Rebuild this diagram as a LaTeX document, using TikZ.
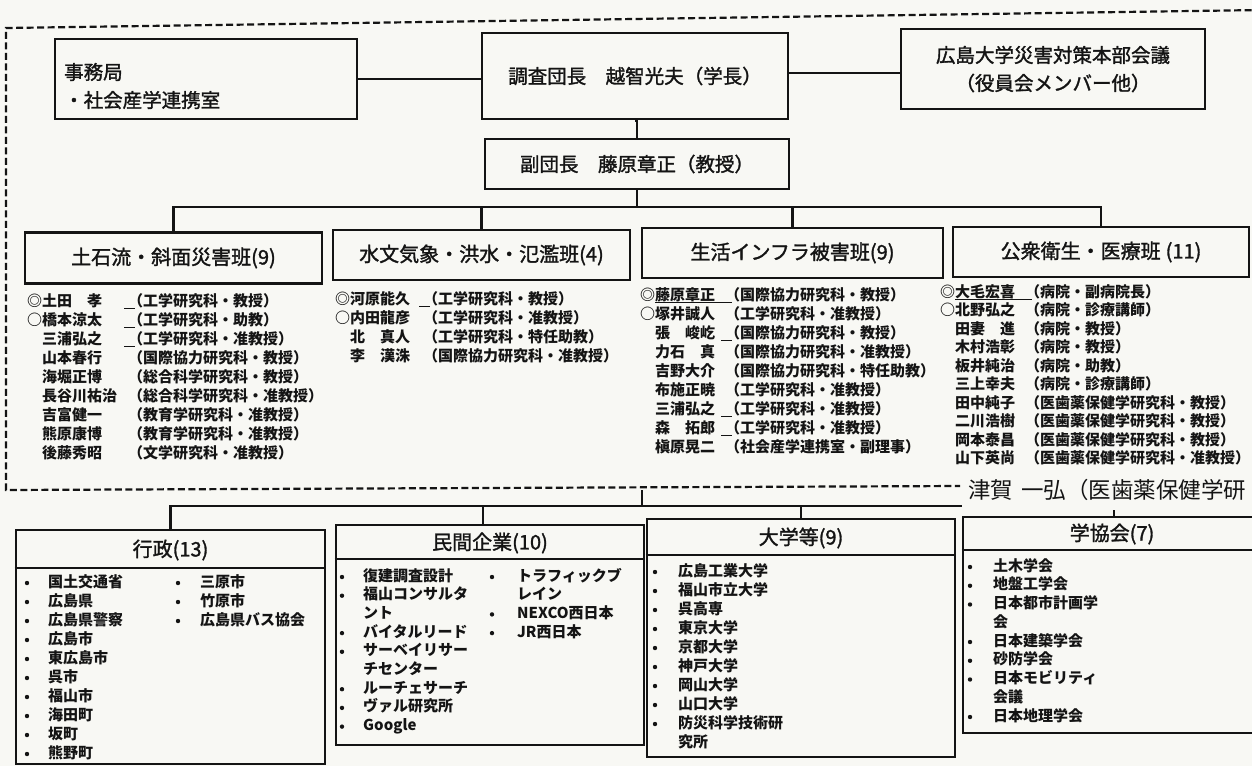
\documentclass[tikz,border=0pt]{standalone}
\usepackage{fontspec}
\setmainfont{Noto Sans CJK JP}
\newfontfamily\medfont{Noto Sans CJK JP}[FakeBold=1.5]
\definecolor{paper}{RGB}{248,248,244}
\definecolor{ink}{RGB}{20,20,20}
\tikzset{
  box/.style={draw=ink, line width=2.8pt, inner sep=0pt},
  conn/.style={draw=ink, line width=2.6pt},
  dashbox/.style={draw=ink, line width=2.2pt, dash pattern=on 7pt off 3.5pt},
  hdr/.style={inner sep=0pt, text=ink, font=\medfont\fontsize{20}{24}\selectfont},
  topt/.style={inner sep=0pt, text=ink, font=\medfont\fontsize{19.5}{24}\selectfont},
  lst/.style={inner sep=0pt, anchor=west, text=ink, font=\fontsize{15}{18}\selectfont\bfseries, text height=11pt, text depth=3pt},
  bul/.style={circle, fill=ink, inner sep=0pt, minimum size=4.4pt},
  uline/.style={draw=ink, line width=1pt},
  hand/.style={inner sep=0pt, anchor=west, text=ink, font=\fontsize{22.5}{26}\selectfont},
  whiteout/.style={fill=paper, draw=none}
}
\newcommand\mrow[6]{\node[lst] (#1n) at (#2,#4) {#5};\node[lst] (#1a) at (#3,#4) {#6};}
\newcommand\bit[5]{\node[bul] (#1b) at (#2,#4) {};\node[lst] (#1t) at (#3,#4) {#5};}
\newcommand\cont[4]{\node[lst] (#1t) at (#2,#3) {#4};}
\newcommand\ushort[1]{\draw[uline] ([xshift=-4pt,yshift=-6pt]#1.west) -- ([xshift=7pt,yshift=-6pt]#1.west);}
\begin{document}
\begin{tikzpicture}[x=1pt,y=-1pt]
\useasboundingbox (0,0) rectangle (1252,766);
\fill[paper] (0,0) rectangle (1252,766);

% dashed frame
\coordinate (dA) at (1262,10);
\coordinate (dB) at (6,28);
\coordinate (dC) at (6,490);
\coordinate (dD) at (960,486);
\draw[dashbox] (dA) -- (dB) -- (dC) -- (dD);

% top row
\node[box, minimum width=302pt, minimum height=80pt] (jim) at (206,79) {};
\node[topt, anchor=west] (jimA) at (64,72) {事務局};
\node[topt, anchor=west] (jimB) at (64,100) {・社会産学連携室};
\node[box, minimum width=306pt, minimum height=86pt, topt] (chief) at (635,76) {調査団長　越智光夫（学長）};
\node[box, minimum width=304pt, minimum height=80pt] (hq) at (1053,69) {};
\node[topt] (hqA) at (1053,55) {広島大学災害対策本部会議};
\node[topt] (hqB) at (1053,83) {（役員会メンバー他）};
\node[box, minimum width=304pt, minimum height=50pt, topt] (vice) at (637,164) {副団長　藤原章正（教授）};

\draw[conn] (jim.east) -- (jim.east -| chief.west);
\draw[conn] (chief.east |- 0,73) -- (hq.west |- 0,73);
\draw[conn] (chief.south) -- (vice.south |- chief.south) -- (vice.north);

% group boxes
\node[box, minimum width=297pt, minimum height=51pt, hdr] (g1) at (173.5,258) {土石流・斜面災害班(9)};
\node[box, minimum width=297pt, minimum height=50pt, hdr] (g2) at (481.5,255) {水文気象・洪水・氾濫班(4)};
\node[box, minimum width=301pt, minimum height=50pt, hdr] (g3) at (792.5,253) {生活インフラ被害班(9)};
\node[box, minimum width=296pt, minimum height=50pt, hdr] (g4) at (1101,252) {公衆衛生・医療班\hspace{5pt}(11)};
\coordinate (gbar) at (637,207);
\draw[conn] (vice.south) -- (vice.south |- gbar);
\draw[conn] (g1.north) |- (gbar) -| (g4.north);
\draw[conn] (g2.north) -- (g2.north |- gbar);
\draw[conn] (g3.north) -- (g3.north |- gbar);

% group 1 members
\mrow{a1}{27}{128}{302}{◎土田　孝}{（工学研究科・教授）}
\mrow{a2}{27}{128}{321}{○橋本涼太}{（工学研究科・助教）}
\mrow{a3}{27}{128}{340}{\phantom{◎}三浦弘之}{（工学研究科・准教授）}
\mrow{a4}{27}{128}{359}{\phantom{◎}山本春行}{（国際協力研究科・教授）}
\mrow{a5}{27}{128}{378}{\phantom{◎}海堀正博}{（総合科学研究科・教授）}
\mrow{a6}{27}{128}{397}{\phantom{◎}長谷川祐治}{（総合科学研究科・准教授）}
\mrow{a7}{27}{128}{416}{\phantom{◎}吉富健一}{（教育学研究科・准教授）}
\mrow{a8}{27}{128}{435}{\phantom{◎}熊原康博}{（教育学研究科・准教授）}
\mrow{a9}{27}{128}{454}{\phantom{◎}後藤秀昭}{（文学研究科・准教授）}
\ushort{a1a}\ushort{a2a}\ushort{a3a}

% group 2 members
\mrow{b1}{335}{423}{300}{◎河原能久}{（工学研究科・教授）}
\mrow{b2}{335}{423}{319}{○内田龍彦}{（工学研究科・准教授）}
\mrow{b3}{335}{423}{338}{\phantom{◎}北　真人}{（工学研究科・特任助教）}
\mrow{b4}{335}{423}{357}{\phantom{◎}李　漢洙}{（国際協力研究科・准教授）}
\ushort{b1a}

% group 3 members
\mrow{c1}{640}{725}{296}{◎藤原章正}{（国際協力研究科・教授）}
\mrow{c2}{640}{725}{315}{○塚井誠人}{（工学研究科・准教授）}
\mrow{c3}{640}{725}{334}{\phantom{◎}張　峻屹}{（国際協力研究科・教授）}
\mrow{c4}{640}{725}{353}{\phantom{◎}力石　真}{（国際協力研究科・准教授）}
\mrow{c5}{640}{725}{372}{\phantom{◎}吉野大介}{（国際協力研究科・特任助教）}
\mrow{c6}{640}{725}{391}{\phantom{◎}布施正暁}{（工学研究科・准教授）}
\mrow{c7}{640}{725}{410}{\phantom{◎}三浦弘之}{（工学研究科・准教授）}
\mrow{c8}{640}{725}{429}{\phantom{◎}森　拓郎}{（工学研究科・准教授）}
\mrow{c9}{640}{725}{448}{\phantom{◎}槇原晃二}{（社会産学連携室・副理事）}
\draw[uline] ([xshift=15pt,yshift=-6pt]c1n.west) -- ([xshift=7pt,yshift=-6pt]c1a.west);
\ushort{c3a}\ushort{c7a}\ushort{c8a}

% group 4 members
\mrow{d1}{940}{1025}{293}{◎大毛宏喜}{（病院・副病院長）}
\mrow{d2}{940}{1025}{311.5}{○北野弘之}{（病院・診療講師）}
\mrow{d3}{940}{1025}{330}{\phantom{◎}田妻　進}{（病院・教授）}
\mrow{d4}{940}{1025}{348.5}{\phantom{◎}木村浩彰}{（病院・教授）}
\mrow{d5}{940}{1025}{367}{\phantom{◎}板井純治}{（病院・助教）}
\mrow{d6}{940}{1025}{385.5}{\phantom{◎}三上幸夫}{（病院・診療講師）}
\mrow{d7}{940}{1025}{404}{\phantom{◎}田中純子}{（医歯薬保健学研究科・教授）}
\mrow{d8}{940}{1025}{422.5}{\phantom{◎}二川浩樹}{（医歯薬保健学研究科・教授）}
\mrow{d9}{940}{1025}{441}{\phantom{◎}岡本泰昌}{（医歯薬保健学研究科・教授）}
\mrow{d10}{940}{1025}{459.5}{\phantom{◎}山下英尚}{（医歯薬保健学研究科・准教授）}
\draw[uline] ([xshift=15pt,yshift=-6pt]d1n.west) -- ([xshift=7pt,yshift=-6pt]d1a.west);

% bottom boxes
\node[box, minimum width=309pt, minimum height=234pt] (e1) at (170.5,647) {};
\node[box, minimum width=308pt, minimum height=220pt] (e2) at (490,635) {};
\node[box, minimum width=308pt, minimum height=238pt] (e3) at (801,638) {};
\node[box, minimum width=302pt, minimum height=216pt] (e4) at (1114,625) {};
\coordinate (bbar) at (642,506);
\draw[conn] (dC -| bbar) -- (bbar);
\draw[conn] (e1.north) |- (bbar) -| (e4.north);
\draw[conn] (483,0 |- e2.north) -- (483,0 |- bbar);
\draw[conn] (e3.north) -- (e3.north |- bbar);
\draw[conn] (e1.west |- 0,568) -- (e1.east |- 0,568);
\draw[conn] (e2.west |- 0,559) -- (e2.east |- 0,559);
\draw[conn] (e3.west |- 0,555) -- (e3.east |- 0,555);
\draw[conn] (e4.west |- 0,550) -- (e4.east |- 0,550);
\node[hdr] (e1h) at (170.5,550) {行政(13)};
\node[hdr] (e2h) at (490,543) {民間企業(10)};
\node[hdr] (e3h) at (801,538) {大学等(9)};
\node[hdr] (e4h) at (1112,534) {学協会(7)};

% whiteout and handwritten addition
\fill[whiteout] (962,474) rectangle (1190,510);
\node[hand] (hw) at (968,490) {津賀\hspace{8pt}一弘（医歯薬保健学研};

% 行政
\bit{f1}{27}{48}{583}{国土交通省}
\bit{f2}{27}{48}{602}{広島県}
\bit{f3}{27}{48}{621}{広島県警察}
\bit{f4}{27}{48}{640}{広島市}
\bit{f5}{27}{48}{659}{東広島市}
\bit{f6}{27}{48}{678}{呉市}
\bit{f7}{27}{48}{697}{福山市}
\bit{f8}{27}{48}{716}{海田町}
\bit{f9}{27}{48}{735}{坂町}
\bit{f10}{27}{48}{754}{熊野町}
\bit{f11}{178}{200}{583}{三原市}
\bit{f12}{178}{200}{602}{竹原市}
\bit{f13}{178}{200}{621}{広島県バス協会}

% 民間企業
\bit{h1}{342}{363}{577}{復建調査設計}
\bit{h2}{342}{363}{595.7}{福山コンサルタ}
\cont{h3}{363}{614.4}{ント}
\bit{h4}{342}{363}{633.1}{バイタルリード}
\bit{h5}{342}{363}{651.8}{サーベイリサー}
\cont{h6}{363}{670.5}{チセンター}
\bit{h7}{342}{363}{689.2}{ルーチェサーチ}
\bit{h8}{342}{363}{707.9}{ヴァル研究所}
\bit{h9}{342}{363}{726.6}{Google}
\bit{h10}{492}{517}{577}{トラフィックブ}
\cont{h11}{517}{595.7}{レイン}
\bit{h12}{492}{517}{614.4}{NEXCO西日本}
\bit{h13}{492}{517}{633.1}{JR西日本}

% 大学等
\bit{k1}{655}{678}{572}{広島工業大学}
\bit{k2}{655}{678}{591}{福山市立大学}
\bit{k3}{655}{678}{610}{呉高専}
\bit{k4}{655}{678}{629}{東京大学}
\bit{k5}{655}{678}{648}{京都大学}
\bit{k6}{655}{678}{667}{神戸大学}
\bit{k7}{655}{678}{686}{岡山大学}
\bit{k8}{655}{678}{705}{山口大学}
\bit{k9}{655}{678}{724}{防災科学技術研}
\cont{k10}{678}{743}{究所}

% 学協会
\bit{m1}{970}{993}{567}{土木学会}
\bit{m2}{970}{993}{585.75}{地盤工学会}
\bit{m3}{970}{993}{604.5}{日本都市計画学}
\cont{m4}{993}{623.25}{会}
\bit{m5}{970}{993}{642}{日本建築学会}
\bit{m6}{970}{993}{660.75}{砂防学会}
\bit{m7}{970}{993}{679.5}{日本モビリティ}
\cont{m8}{993}{698.25}{会議}
\bit{m9}{970}{993}{717}{日本地理学会}
\end{tikzpicture}
\end{document}
